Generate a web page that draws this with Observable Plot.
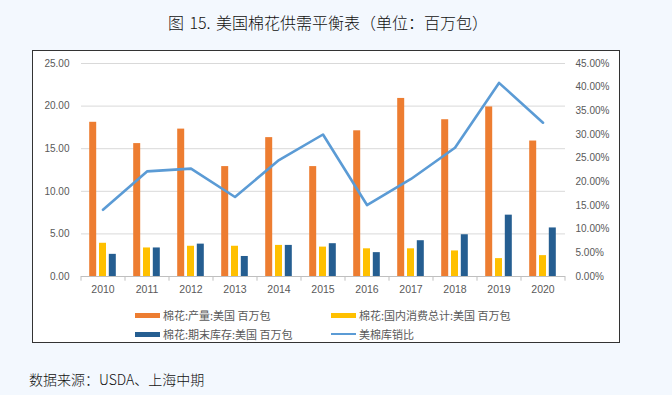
<!DOCTYPE html>
<html>
<head>
<meta charset="utf-8">
<script src="https://cdn.jsdelivr.net/npm/d3@7"></script>
<script src="https://cdn.jsdelivr.net/npm/@observablehq/plot@0.6"></script>
<style>
  html, body { margin: 0; padding: 0; }
  body { width: 672px; height: 395px; background: #f3f8fe; position: relative; overflow: hidden; font-family: "Noto Sans CJK SC", sans-serif; }
  #title { position: absolute; left: 0; width: 656px; top: 10px; text-align: center; font-size: 16px; font-weight: 300; color: #111; word-spacing: 2px; }
  #box { position: absolute; left: 32px; top: 50px; width: 586px; height: 291px; background: #fff; border: 1.5px solid #333; }
  #chart { position: absolute; left: 0; top: 0; }
  .legend { position: absolute; font-size: 11px; color: #595959; display: flex; align-items: center; white-space: nowrap; }
  .sw { width: 25px; margin-right: 3px; }
  #source { position: absolute; left: 29px; top: 369px; font-size: 14px; font-weight: 300; color: #111; }
</style>
</head>
<body>
<div id="title">图 15. 美国棉花供需平衡表（单位：百万包）</div>
<div id="box">
  <div id="chart"></div>
  <div id="legend"></div>
</div>
<div id="source">数据来源：USDA、上海中期</div>
<script>
const years = ["2010","2011","2012","2013","2014","2015","2016","2017","2018","2019","2020"];
const production = [18.1, 15.6, 17.3, 12.9, 16.3, 12.9, 17.1, 20.9, 18.4, 19.9, 15.9];
const consumption = [3.9, 3.35, 3.55, 3.55, 3.65, 3.45, 3.25, 3.25, 3.0, 2.1, 2.45];
const stocks = [2.6, 3.35, 3.8, 2.35, 3.65, 3.85, 2.8, 4.2, 4.9, 7.2, 5.7];
const ratio = [14.1, 22.2, 22.8, 16.8, 24.6, 30.0, 15.1, 20.6, 27.2, 40.9, 32.5];
const seriesNames = ["棉花:产量:美国 百万包", "棉花:国内消费总计:美国 百万包", "棉花:期末库存:美国 百万包", "美棉库销比"];
const colors = ["#ED7D31", "#FFC000", "#255E91", "#5B9BD5"];
const leftTicks = [0, 5, 10, 15, 20, 25];
const rightTicks = [0, 5, 10, 15, 20, 25, 30, 35, 40, 45];

const k = 25 / 45;
const rows = years.map((y, i) => ({year: y, production: production[i], consumption: consumption[i], stocks: stocks[i], ratio: ratio[i] * k}));

const chart = Plot.plot({
  width: 586, height: 247,
  marginLeft: 48, marginRight: 54, marginTop: 12, marginBottom: 22,
  style: {fontFamily: "'Liberation Sans', Arial, sans-serif", fontSize: "10px", color: "#595959", background: "transparent"},
  x: {type: "band", domain: years, paddingInner: 0.83, paddingOuter: 0.415},
  y: {domain: [0, 25]},
  marks: [
    Plot.gridY(leftTicks.slice(1), {stroke: "#d9d9d9", strokeOpacity: 1}),
    Plot.ruleY([0], {stroke: "#bfbfbf"}),
    Plot.ruleX(years, {x: d => d, dx: 22, y1: 0, y2: -0.55, stroke: "#bfbfbf"}),
    Plot.ruleX([years[0]], {x: d => d, dx: -22, y1: 0, y2: -0.55, stroke: "#bfbfbf"}),
    Plot.barY(rows, {x: "year", y: "production", fill: colors[0], dx: -9.8}),
    Plot.barY(rows, {x: "year", y: "consumption", fill: colors[1], dx: 0}),
    Plot.barY(rows, {x: "year", y: "stocks", fill: colors[2], dx: 9.8}),
    Plot.lineY(rows, {x: "year", y: "ratio", stroke: colors[3], strokeWidth: 2.6}),
    Plot.axisX({tickSize: 0, tickPadding: 9, fontSize: 10.5, label: null}),
    Plot.axisY(leftTicks, {anchor: "left", tickSize: 0, tickPadding: 12, tickFormat: d => d.toFixed(2), label: null}),
    Plot.axisY(rightTicks.map(v => v * k), {anchor: "right", tickSize: 0, tickPadding: 10, tickFormat: d => (d / k).toFixed(2) + "%", label: null})
  ]
});
document.getElementById("chart").appendChild(chart);

const legendPos = [
  {left: 102, top: 256, bar: true},
  {left: 298, top: 256, bar: true},
  {left: 102, top: 275, bar: true},
  {left: 298, top: 275, bar: false}
];
const legend = document.getElementById("legend");
seriesNames.forEach((name, i) => {
  const p = legendPos[i];
  const el = document.createElement("div");
  el.className = "legend";
  el.style.left = p.left + "px";
  el.style.top = p.top + "px";
  const sw = document.createElement("span");
  sw.className = "sw";
  sw.style.height = p.bar ? "5px" : "2px";
  sw.style.background = colors[i];
  el.appendChild(sw);
  const t = document.createElement("span");
  t.textContent = name;
  el.appendChild(t);
  legend.appendChild(el);
});
</script>
</body>
</html>
